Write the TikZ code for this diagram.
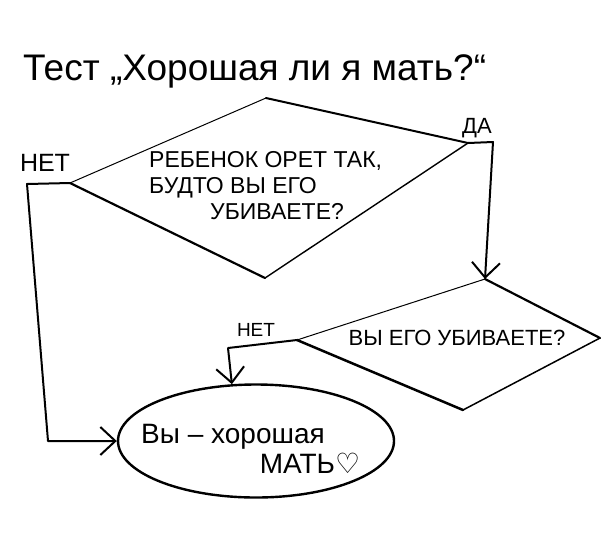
\documentclass[tikz,border=0pt]{standalone}
\usepackage{fontspec}
\setmainfont{Liberation Sans}
\newfontfamily\symfont{DejaVu Sans}
\usetikzlibrary{arrows.meta,shapes.geometric}
\begin{document}
\begin{tikzpicture}[x=1pt,y=-1pt,
  flow/.style={line width=2pt, line join=round, line cap=round, -{Straight Barb[length=15pt,width=28pt,line width=2pt]}},
  lbl/.style={inner sep=0pt, font=\fontsize{22}{24}\selectfont},
  qtext/.style={inner sep=0pt, anchor=west, font=\fontsize{23}{26}\selectfont},
  seg/.style={line cap=round}
]
\useasboundingbox (0,0) rectangle (604,539);
\fill[white] (0,0) rectangle (604,539);

\node[inner sep=0pt, font=\fontsize{37}{40}\selectfont, anchor=base west] (title) at (23,80) {Тест „Хорошая ли я мать?“};

% first decision
\coordinate (d1t) at (266,98);
\coordinate (d1r) at (468,143);
\coordinate (d1b) at (265,278);
\coordinate (d1l) at (70,183);
\draw[seg, line width=1pt] (d1l) -- (d1t);
\draw[seg, line width=2pt] (d1t) -- (d1r);
\draw[seg, line width=1.4pt] (d1r) -- (d1b);
\draw[seg, line width=2.2pt] (d1b) -- (d1l);
\node[qtext] (q1a) at (149,161) {РЕБЕНОК ОРЕТ ТАК,};
\node[qtext] (q1b) at (149,188) {БУДТО ВЫ ЕГО};
\node[qtext] (q1c) at (210,212) {УБИВАЕТЕ?};

% second decision
\coordinate (d2t) at (485,279);
\coordinate (d2r) at (600,338);
\coordinate (d2b) at (463,410);
\coordinate (d2l) at (297,340);
\draw[seg, line width=1pt] (d2l) -- (d2t);
\draw[seg, line width=2.2pt] (d2t) -- (d2r);
\draw[seg, line width=1.5pt] (d2r) -- (d2b);
\draw[seg, line width=2.5pt] (d2b) -- (d2l);
\node[inner sep=0pt, font=\fontsize{22}{24}\selectfont] (q2) at (457,338) {ВЫ ЕГО УБИВАЕТЕ?};

% result
\node[ellipse, draw, line width=2.4pt, minimum width=276pt, minimum height=113pt, inner sep=0pt] (res) at (256,441) {};
\node[inner sep=0pt, font=\fontsize{28}{30}\selectfont] (r1) at (233,437) {Вы – хорошая};
\node[inner sep=0pt, font=\fontsize{28}{30}\selectfont] (r2) at (310,463) {МАТЬ{\symfont ♡}};

% labels
\node[lbl, font=\fontsize{25}{27}\selectfont] (no1) at (45,163) {НЕТ};
\node[lbl] (yes1) at (477,128) {ДА};
\node[lbl, font=\fontsize{19}{21}\selectfont] (no2) at (256,330) {НЕТ};

% connectors
\coordinate (c1) at (27,184);
\coordinate (c2) at (48,441);
\draw[flow] (d1l) -- (c1) -- (c2) -- (res.west);
\coordinate (c3) at (493,142);
\draw[flow] (d1r) -- (c3) -- (d2t);
\coordinate (c4) at (228,348);
\draw[flow] (d2l) -- (c4) -- (res.113);
\end{tikzpicture}
\end{document}
